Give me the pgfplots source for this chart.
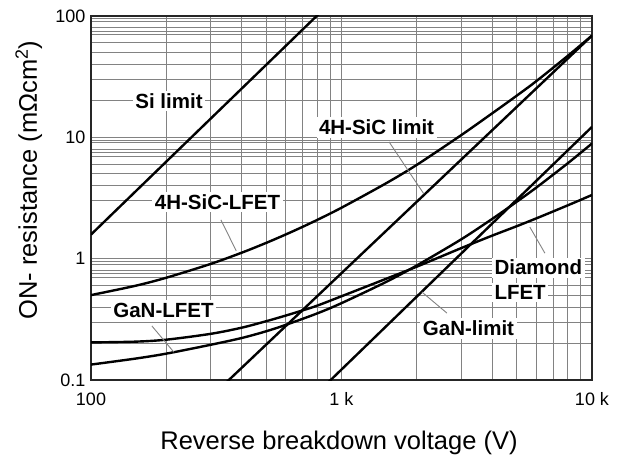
\documentclass[border=0pt]{standalone}
\usepackage{fontspec}
\setmainfont{Liberation Sans}
\usepackage{pgfplots}
\pgfplotsset{compat=1.18}
\definecolor{gridgray}{RGB}{130,130,130}
\begin{document}
\begin{tikzpicture}
\path[use as bounding box] (-91pt,-78pt) rectangle (533pt,380pt);
\begin{axis}[
  xmode=log, ymode=log,
  scale only axis, width=501pt, height=364pt,
  xmin=100, xmax=10000, ymin=0.1, ymax=100,
  xtick={100,1000,10000}, xticklabels={100,1 k,10 k},
  ytick={0.1,1,10,100}, yticklabels={0.1,1,10,100},
  minor xtick={200,300,400,500,600,700,800,900,2000,3000,4000,5000,6000,7000,8000,9000},
  minor ytick={0.2,0.3,0.4,0.5,0.6,0.7,0.75,0.8,0.9,0.95,2,3,4,5,6,7,7.5,8,9,9.5,20,30,40,50,60,70,75,80,90,95},
  grid=both,
  major grid style={gridgray, line width=0.9pt},
  minor grid style={gridgray, line width=0.9pt},
  major tick length=0pt, minor tick length=0pt,
  axis line style={line width=1.6pt, black!85},
  tick label style={font=\fontsize{18}{21}\selectfont},
  xticklabel style={yshift=-9pt},
  yticklabel style={xshift=-2pt},
  xlabel={Reverse breakdown voltage (V)},
  ylabel={ON- resistance (mΩcm\textsuperscript{2})},
  label style={font=\fontsize{25.5}{30}\selectfont},
  xlabel style={at={(axis description cs:0.495,-0.1896)}, anchor=base},
  ylabel style={at={(axis description cs:-0.1078,0.549)}, anchor=base},
  clip=true,
]
% Si limit
\addplot[black, line width=2.4pt] coordinates {(100,1.58) (1000,158)};
% 4H-SiC limit
\addplot[black, line width=2.4pt] coordinates {(300,0.0719) (10000,69)};
% GaN limit
\addplot[black, line width=2.4pt] coordinates {(800,0.0781) (10000,12.2)};
% 4H-SiC-LFET
\addplot[black, line width=2.4pt, smooth] coordinates {
 (100,0.501) (150,0.597) (200,0.697) (300,0.904) (400,1.121) (500,1.348) (600,1.585)
 (700,1.831) (800,2.087) (1000,2.63) (1500,4.16) (2000,5.94) (3000,10.4) (4000,15.8)
 (5000,22.0) (6000,29.1) (8000,46.9) (10000,69)};
% GaN-LFET
\addplot[black, line width=2.4pt, smooth] coordinates {
 (100,0.134) (150,0.150) (200,0.165) (300,0.195) (400,0.222) (500,0.252) (600,0.285)
 (800,0.354) (1000,0.43) (1500,0.64) (2000,0.88) (3000,1.44) (4000,2.13)
 (5000,2.94) (6000,3.86) (8000,6.11) (10000,8.9)};
% Diamond LFET
\addplot[black, line width=2.4pt, smooth] coordinates {
 (100,0.204) (150,0.207) (200,0.215) (300,0.24) (400,0.27) (500,0.305) (600,0.34)
 (700,0.375) (800,0.41) (1000,0.49) (1500,0.68) (2000,0.86) (3000,1.22) (4000,1.55)
 (5000,1.85) (6000,2.15) (8000,2.75) (10000,3.35)};
% leader lines
\draw[gridgray, line width=0.9pt] (axis cs:1549,9.16) -- (axis cs:2133,3.41);
\draw[gridgray, line width=0.9pt] (axis cs:330,2.09) -- (axis cs:380,1.16);
\draw[gridgray, line width=0.9pt] (axis cs:175,0.279) -- (axis cs:214,0.170);
\draw[gridgray, line width=0.9pt] (axis cs:6486,1.11) -- (axis cs:5650,1.82);
\draw[gridgray, line width=0.9pt] (axis cs:2636,0.356) -- (axis cs:2094,0.531);
% labels
\tikzset{lab/.style={fill=white, inner sep=2.5pt, font=\fontsize{20.5}{24}\selectfont\bfseries}}
\node[lab] at (axis description cs:0.1557,0.7665) {Si limit};
\node[lab] at (axis description cs:0.5699,0.6937) {4H-SiC limit};
\node[lab] at (axis description cs:0.2525,0.4890) {4H-SiC-LFET};
\node[lab] at (axis description cs:0.1447,0.1923) {GaN-LFET};
\node[lab] at (axis description cs:0.7535,0.1415) {GaN-limit};
\node[lab, anchor=base west] at (axis description cs:0.8000,0.2885) {Diamond};
\node[lab, anchor=base west] at (axis description cs:0.8000,0.2198) {LFET};
\end{axis}
\end{tikzpicture}
\end{document}
